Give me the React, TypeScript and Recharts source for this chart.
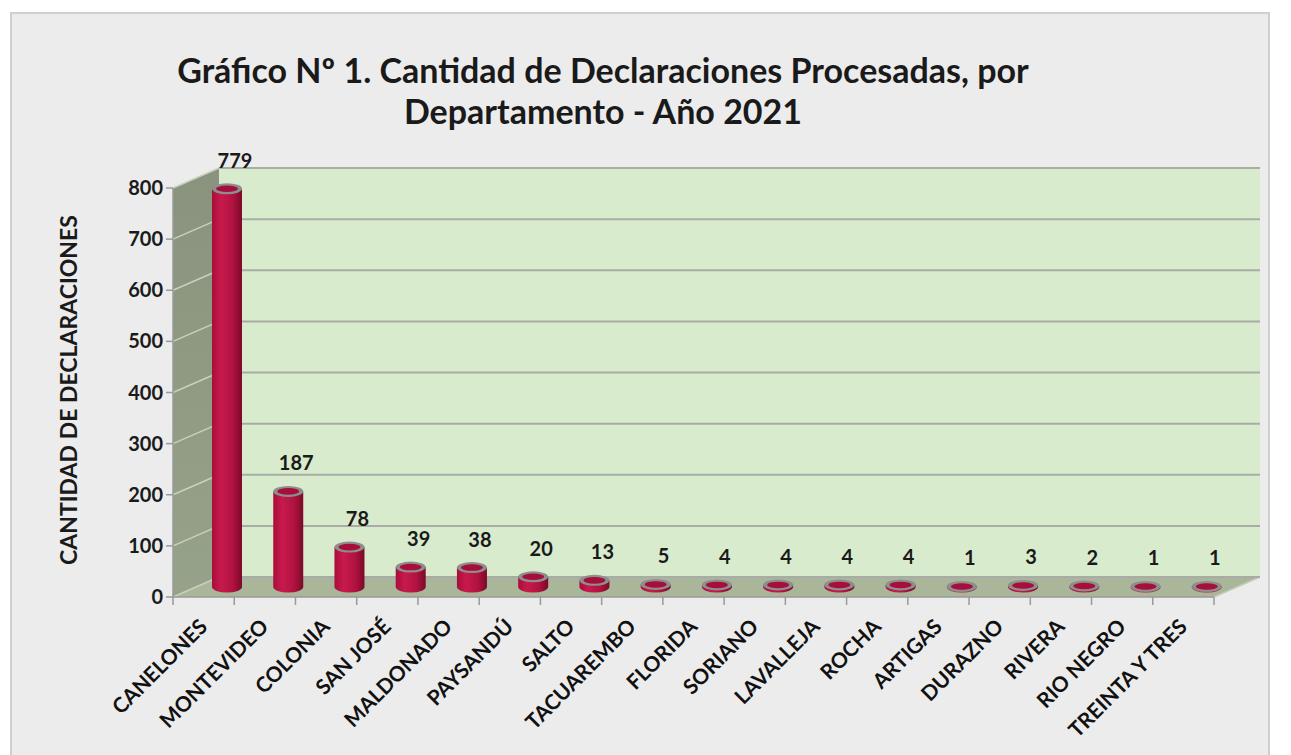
import { Bar, BarChart, CartesianGrid, LabelList, ReferenceArea, XAxis, YAxis } from "recharts";

const categorias = [
  "CANELONES",
  "MONTEVIDEO",
  "COLONIA",
  "SAN JOSÉ",
  "MALDONADO",
  "PAYSANDÚ",
  "SALTO",
  "TACUAREMBO",
  "FLORIDA",
  "SORIANO",
  "LAVALLEJA",
  "ROCHA",
  "ARTIGAS",
  "DURAZNO",
  "RIVERA",
  "RIO NEGRO",
  "TREINTA Y TRES",
];
const declaraciones = [779, 187, 78, 39, 38, 20, 13, 5, 4, 4, 4, 4, 1, 3, 2, 1, 1];
const ticksY = [0, 100, 200, 300, 400, 500, 600, 700, 800];

const data = categorias.map((c, i) => ({ depto: c, valor: declaraciones[i] }));

// profundidad del efecto 3D
const DX = 46;
const DY = -20;
const FONT = "Lato, 'Open Sans', sans-serif";

function Paredes(props: any) {
  const { x, y, width, height } = props;
  const bottom = y + height;
  return (
    <g>
      <defs>
        <linearGradient id="cil" x1="0" y1="0" x2="1" y2="0">
          <stop offset="0%" stopColor="#a80e3a" />
          <stop offset="30%" stopColor="#c81a4c" />
          <stop offset="70%" stopColor="#b01240" />
          <stop offset="100%" stopColor="#7a0a28" />
        </linearGradient>
        <linearGradient id="lado" x1="0" y1="0" x2="0" y2="1">
          <stop offset="0%" stopColor="#8a937d" />
          <stop offset="100%" stopColor="#97a28a" />
        </linearGradient>
      </defs>
      {/* pared lateral */}
      <polygon
        points={`${x},${bottom} ${x},${y} ${x + DX},${y + DY} ${x + DX},${bottom + DY}`}
        fill="url(#lado)"
      />
      {/* pared del fondo */}
      <rect x={x + DX} y={y + DY} width={width} height={height} fill="#d9ebcd" />
      {/* piso */}
      <polygon
        points={`${x},${bottom} ${x + width},${bottom} ${x + width + DX},${bottom + DY} ${x + DX},${bottom + DY}`}
        fill="#a9b699"
      />
      <line x1={x + width} y1={bottom} x2={x + width + DX} y2={bottom + DY} stroke="#c4ccb8" strokeWidth={1.5} />
    </g>
  );
}

function LineaGrilla(props: any) {
  const { x1, y1, x2, index } = props;
  if (index === undefined) return <g />;
  return (
    <g>
      <line x1={x1} y1={y1} x2={x1 + DX} y2={y1 + DY} stroke="#c9d0c0" strokeWidth={1.5} />
      <line x1={x1 + DX} y1={y1 + DY} x2={x2 + DX} y2={y1 + DY} stroke="#a9aca6" strokeWidth={2} />
    </g>
  );
}

function Cilindro(props: any) {
  const { x, y, width, height } = props;
  const r = width / 2;
  const cx = x + r + DX / 2;
  const top = y + DY / 2;
  const bot = y + height + DY / 2;
  const ry = 5.5;
  return (
    <g>
      <path
        d={`M ${cx - r} ${top} L ${cx - r} ${bot} A ${r} ${ry} 0 0 0 ${cx + r} ${bot} L ${cx + r} ${top} Z`}
        fill="url(#cil)"
      />
      <ellipse cx={cx} cy={top} rx={r} ry={ry} fill="#8e8e8e" />
      <ellipse cx={cx} cy={top} rx={r - 4} ry={ry - 2.2} fill="#a50f3a" />
    </g>
  );
}

function Etiqueta(props: any) {
  const { x, y, width, value } = props;
  return (
    <text
      x={x + width / 2 + DX / 2 + 8}
      y={y + DY / 2 - 21}
      textAnchor="middle"
      fontFamily={FONT}
      fontWeight={700}
      fontSize={20}
      fill="#1a1a1a"
    >
      {value}
    </text>
  );
}

function TickX(props: any) {
  const { x, y, payload, index } = props;
  const off = payload.offset ?? 0;
  const ax = x + 5;
  const ay = y + 23;
  return (
    <g>
      <line x1={x - off} y1={y - 8} x2={x - off} y2={y} stroke="#9a9a9a" strokeWidth={1.5} />
      {index === categorias.length - 1 && (
        <line x1={x + off} y1={y - 8} x2={x + off} y2={y} stroke="#9a9a9a" strokeWidth={1.5} />
      )}
      <text
        x={ax}
        y={ay}
        textAnchor="end"
        transform={`rotate(-45 ${ax} ${ay})`}
        fontFamily={FONT}
        fontWeight={700}
        fontSize={21}
        fill="#111"
      >
        {payload.value}
      </text>
    </g>
  );
}

export default function App() {
  return (
    <div
      style={{
        position: "absolute",
        left: 0,
        top: 0,
        width: 1291,
        height: 755,
        overflow: "hidden",
        background: "#ffffff",
      }}
    >
      <div
        style={{
          position: "absolute",
          left: 10,
          top: 12,
          width: 1256,
          height: 760,
          border: "2px solid #cfcfcf",
          background: "#ececec",
        }}
      />
      <div
        style={{
          position: "absolute",
          left: 0,
          top: 49,
          width: 1206,
          textAlign: "center",
          fontFamily: FONT,
          fontWeight: 700,
          fontSize: 34,
          lineHeight: "41px",
          color: "#1a1a1a",
        }}
      >
        Gráfico Nº 1. Cantidad de Declaraciones Procesadas, por
        <br />
        Departamento - Año 2021
      </div>
      <div
        style={{
          position: "absolute",
          left: 68,
          top: 390,
          transform: "translate(-50%, -50%) rotate(-90deg)",
          whiteSpace: "nowrap",
          fontFamily: FONT,
          fontWeight: 700,
          fontSize: 23,
          color: "#1a1a1a",
        }}
      >
        CANTIDAD DE DECLARACIONES
      </div>
      <div style={{ position: "absolute", left: 0, top: 0 }}>
        <BarChart
          width={1291}
          height={755}
          data={data}
          margin={{ top: 188, right: 77, left: 113, bottom: 18 }}
          barSize={30}
        >
          <ReferenceArea y1={0} y2={800} shape={<Paredes />} zIndex={-200} ifOverflow="visible" />
          <CartesianGrid vertical={false} horizontal={(p: any) => <LineaGrilla {...p} />} />
          <XAxis
            dataKey="depto"
            interval={0}
            height={140}
            tickLine={false}
            axisLine={{ stroke: "#9a9a9a", strokeWidth: 1.5 }}
            tick={<TickX />}
          />
          <YAxis
            domain={[0, 800]}
            ticks={ticksY}
            width={60}
            tickSize={7}
            tickMargin={3}
            axisLine={{ stroke: "#9a9a9a", strokeWidth: 1.5 }}
            tickLine={{ stroke: "#9a9a9a", strokeWidth: 1.5 }}
            tick={{ fontFamily: FONT, fontWeight: 700, fontSize: 20, fill: "#1a1a1a" }}
          />
          <Bar dataKey="valor" shape={<Cilindro />} isAnimationActive={false}>
            <LabelList dataKey="valor" content={<Etiqueta />} />
          </Bar>
        </BarChart>
      </div>
    </div>
  );
}
